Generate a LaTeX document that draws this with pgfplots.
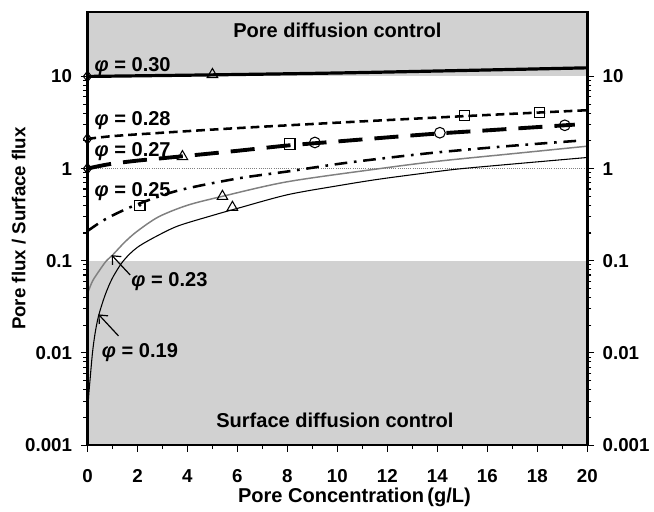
\documentclass[border=0pt]{standalone}
\usepackage{pgfplots}
\pgfplotsset{compat=1.18}
\usepackage{fontspec}
\setmainfont{Liberation Sans}
\usetikzlibrary{arrows.meta}
\newcommand{\lbl}{\bfseries\fontsize{14}{16}\selectfont}
\newcommand{\txt}{\bfseries\fontsize{15}{17}\selectfont}
\newcommand{\phis}{{\itshape φ}}
\begin{document}
\begin{tikzpicture}[font=\lbl]
\begin{axis}[
  scale only axis, width=374pt, height=324pt,
  xmin=0, xmax=20, ymin=0.001, ymax=50, ymode=log,
  ytick={0.001,0.01,0.1,1,10}, yticklabels={0.001,0.01,0.1,1,10},
  tick align=outside,
  major tick length=5pt, minor tick length=3pt,
  tick style={black, line width=0.8pt},
  ticklabel style={font=\lbl},
  yticklabel style={xshift=-3pt},
  xticklabel style={yshift=-10pt},
  /pgf/number format/assume math mode=true,
  axis line style={line width=2pt},
  xtick={0,2,...,20}, minor x tick num=1,
  xtick pos=bottom, ytick pos=left,
  xlabel={Pore Concentration\,(g/L)}, ylabel={Pore flux / Surface flux},
  label style={font=\lbl},
  xlabel style={at={(ticklabel cs:0.534)}, anchor=north, yshift=3pt, font=\bfseries\fontsize{15}{17}\selectfont},
  ylabel style={at={(rel axis cs:-0.1375,0.5)}, anchor=center},
  clip=false, axis on top,
]
\coordinate (tp) at (rel axis cs:0.5,1);
\coordinate (lm) at (rel axis cs:-0.175,0.5);
% shaded regions
\fill[gray!36] (axis cs:0,10) rectangle (axis cs:20,50);
\fill[gray!36] (axis cs:0,0.001) rectangle (axis cs:20,0.1);
\draw[densely dotted, gray, line width=0.6pt] (axis cs:0,1) -- (axis cs:20,1);

% phi = 0.30
\addplot[black, line width=2.4pt, smooth] coordinates {(0,10.0)(5,10.4)(10,10.9)(15,11.6)(20,12.4)};
% phi = 0.28
\addplot[black, line width=1.9pt, dash pattern=on 6.5pt off 3.7pt, smooth] coordinates {(0,2.1)(1,2.25)(3,2.45)(6,2.75)(10,3.15)(15,3.7)(18,4.05)(20,4.3)};
% phi = 0.27
\addplot[black, line width=2.9pt, dash pattern=on 18pt off 9pt, smooth] coordinates {(0,1.0)(0.5,1.07)(1,1.13)(2,1.22)(3.8,1.36)(6,1.56)(8,1.78)(10,1.97)(12,2.18)(14,2.4)(16,2.6)(18,2.82)(19.5,3.0)};
% phi = 0.25
\addplot[black, line width=1.9pt, dash pattern=on 9.5pt off 5pt on 2pt off 5pt, smooth] coordinates {(0,0.21)(0.5,0.26)(1,0.31)(2,0.41)(3.65,0.58)(6,0.78)(8,0.93)(10,1.12)(11.7,1.28)(14,1.5)(17,1.77)(19.8,2.02)};
% phi = 0.23
\addplot[gray, line width=1.1pt, smooth] coordinates {(0,0.044)(0.2,0.06)(0.5,0.08)(0.76,0.1)(1,0.115)(1.5,0.16)(2,0.21)(2.85,0.3)(4,0.4)(5.4,0.5)(8,0.72)(11.7,1.0)(14,1.2)(17,1.45)(20,1.75)};
% phi = 0.19
\addplot[black, line width=0.8pt, smooth] coordinates {(0,0.0022)(0.05,0.0035)(0.1,0.005)(0.2,0.01)(0.3,0.016)(0.44,0.025)(0.7,0.042)(1,0.065)(1.44,0.1)(2,0.14)(2.85,0.19)(3.65,0.24)(5,0.31)(6,0.37)(8,0.52)(10,0.65)(11.7,0.77)(14,0.93)(15,1.0)(17,1.12)(20,1.32)};

% markers
\addplot[only marks, mark=triangle, mark size=4.5pt, mark options={black, line width=0.8pt, fill=white}] coordinates {(5,10.5)(3.8,1.35)(5.4,0.5)(5.8,0.38)};
\addplot[only marks, mark=square, mark size=3.8pt, mark options={black, line width=0.8pt, fill=white}] coordinates {(15.1,3.75)(18.1,4.1)(8.1,1.85)(2.1,0.4)};
\addplot[only marks, mark=*, mark size=0.9pt, black] coordinates {(2.1,0.4)};
\addplot[only marks, mark=o, mark size=4pt, mark options={black, line width=0.8pt, fill=white}] coordinates {(9.1,1.92)(14.1,2.45)(19.1,2.95)};
\addplot[only marks, mark=diamond, mark size=4pt, mark options={black, line width=0.8pt, fill=white}] coordinates {(0,10)(0,2.1)(0,1.0)};

% labels
\node[anchor=west, font=\txt] at (axis cs:0.1,12.8) {\phis{} = 0.30};
\node[anchor=west, font=\txt] at (axis cs:0.1,3.28) {\phis{} = 0.28};
\node[anchor=west, font=\txt] at (axis cs:0.1,1.52) {\phis{} = 0.27};
\node[anchor=west, font=\txt] at (axis cs:0.1,0.566) {\phis{} = 0.25};
\node[font=\txt] at (axis cs:3.28,0.0594) {\phis{} = 0.23};
\node[font=\txt] at (axis cs:2.1,0.01) {\phis{} = 0.19};
\draw[-{Straight Barb[length=5pt,width=9pt]}, line width=0.9pt] (axis cs:1.71,0.07) -- (axis cs:0.97,0.115);
\draw[-{Straight Barb[length=5pt,width=9pt]}, line width=0.9pt] (axis cs:1.24,0.0153) -- (axis cs:0.44,0.0262);
\node[font=\txt] at (axis cs:10,32) {Pore diffusion control};
\node[font=\txt] at (axis cs:9.9,0.00186) {Surface diffusion control};
\end{axis}
\begin{axis}[
  scale only axis, width=374pt, height=324pt,
  xmin=0, xmax=20, ymin=0.001, ymax=50, ymode=log,
  ytick={0.001,0.01,0.1,1,10}, yticklabels={0.001,0.01,0.1,1,10},
  tick align=outside,
  major tick length=5pt, minor tick length=3pt,
  tick style={black, line width=0.8pt},
  ticklabel style={font=\lbl},
  yticklabel style={xshift=3pt},
  /pgf/number format/assume math mode=true,
  axis line style={line width=2pt},
  axis y line*=right, axis x line=none,
]
\end{axis}
\path (tp) ++(0,9pt);
\path (lm);
\end{tikzpicture}
\end{document}
